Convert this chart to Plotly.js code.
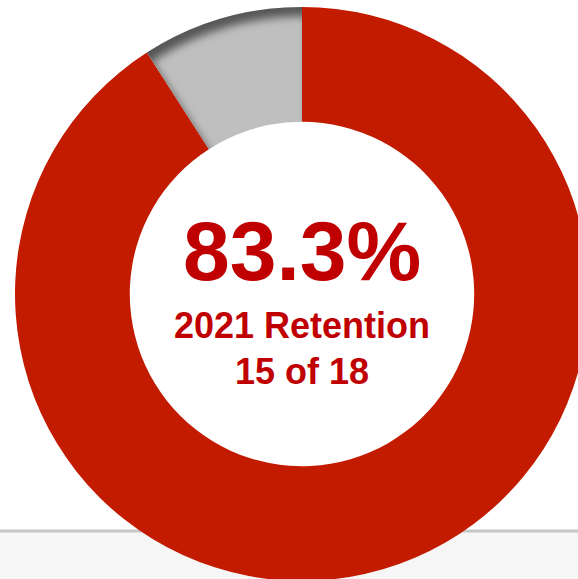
<!DOCTYPE html>
<html>
<head>
<meta charset="utf-8">
<script src="https://cdn.plot.ly/plotly-3.0.1.min.js"></script>
<style>
html,body{margin:0;padding:0;overflow:hidden;background:#fff;width:578px;height:579px;}
#chart{position:absolute;left:0;top:0;width:600px;height:600px;}
</style>
</head>
<body>
<svg width="0" height="0" style="position:absolute">
  <defs>
    <filter id="insetShadow" x="-30%" y="-30%" width="160%" height="160%" color-interpolation-filters="sRGB">
      <feComponentTransfer in="SourceAlpha" result="inv"><feFuncA type="table" tableValues="1 0"/></feComponentTransfer>
      <feGaussianBlur in="inv" stdDeviation="4" result="blur"/>
      <feOffset in="blur" dx="5" dy="9" result="off"/>
      <feFlood flood-color="#000000" flood-opacity="0.55" result="col"/>
      <feComposite in="col" in2="off" operator="in" result="sh"/>
      <feComposite in="sh" in2="SourceAlpha" operator="in" result="sh2"/>
      <feMerge><feMergeNode in="SourceGraphic"/><feMergeNode in="sh2"/></feMerge>
    </filter>
  </defs>
</svg>
<div id="chart"></div>
<script>
// Data (slice sizes as drawn)
const labels = ["Retained", "Not retained"];
const values = [10, 1];
const colors = ["#C31B00", "#BFBFBF"];
const centerLines = ["83.3%", "2021 Retention", "15 of 18"];

const trace = {
  type: "pie",
  labels: labels,
  values: values,
  hole: 0.6,
  sort: false,
  direction: "clockwise",
  rotation: 0,
  textinfo: "none",
  hoverinfo: "none",
  marker: {colors: colors, line: {width: 0}},
  showlegend: false
};

const layout = {
  width: 600, height: 600,
  margin: {l: 15, r: 11, t: 7, b: 19, pad: 0},
  paper_bgcolor: "rgba(0,0,0,0)",
  plot_bgcolor: "rgba(0,0,0,0)",
  showlegend: false,
  shapes: [
    {type: "rect", xref: "paper", yref: "paper", x0: -0.1, x1: 1.1, y0: -0.1, y1: 0.0845,
     fillcolor: "#f6f6f6", line: {width: 0}, layer: "below"},
    {type: "rect", xref: "paper", yref: "paper", x0: -0.1, x1: 1.1, y0: 0.0845, y1: 0.0897,
     fillcolor: "#c6c6c6", line: {width: 0}, layer: "below"}
  ],
  annotations: [
    {text: "<b>" + centerLines[0] + "</b>", x: 0.5, y: 0.575, xref: "paper", yref: "paper",
     xanchor: "center", yanchor: "middle", showarrow: false,
     font: {family: "Arial, 'Liberation Sans', sans-serif", size: 84, color: "#C00000"}},
    {text: "<b>" + centerLines[1] + "</b>", x: 0.5, y: 0.445, xref: "paper", yref: "paper",
     xanchor: "center", yanchor: "middle", showarrow: false,
     font: {family: "Arial, 'Liberation Sans', sans-serif", size: 36, color: "#C00000"}},
    {text: "<b>" + centerLines[2] + "</b>", x: 0.5, y: 0.365, xref: "paper", yref: "paper",
     xanchor: "center", yanchor: "middle", showarrow: false,
     font: {family: "Arial, 'Liberation Sans', sans-serif", size: 36, color: "#C00000"}}
  ]
};

function addShadow(gd){
  const paths = gd.querySelectorAll("g.slice path");
  if (paths.length > 1) {
    paths[1].setAttribute("filter", "url(#insetShadow)");
    paths[1].style.filter = "url(#insetShadow)";
  }
}

Plotly.newPlot("chart", [trace], layout, {displayModeBar: false, staticPlot: true}).then(function(gd){
  addShadow(gd);
  setTimeout(function(){ addShadow(document.getElementById("chart")); }, 50);
});
</script>
</body>
</html>
